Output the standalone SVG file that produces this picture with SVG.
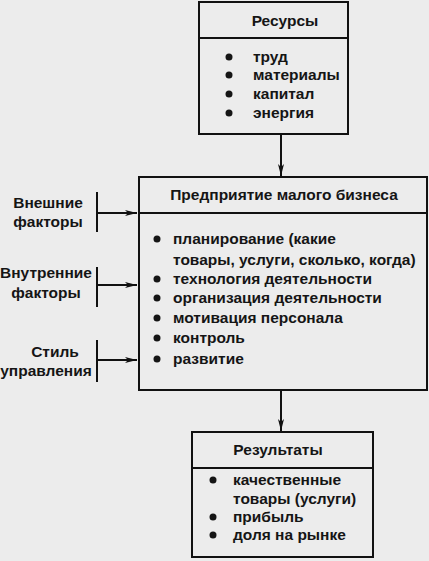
<svg xmlns="http://www.w3.org/2000/svg" width="429" height="561" viewBox="0 0 429 561">
<defs>
<marker id="ah" viewBox="0 0 12 6" refX="12" refY="3" markerWidth="12" markerHeight="6" markerUnits="userSpaceOnUse" orient="auto">
<path d="M0,0 L12,3 L0,6 L3,3 Z" fill="#111"/>
</marker>
</defs>
<style>
.box{fill:none;stroke:#111;stroke-width:2}
.ln{stroke:#111;stroke-width:2;fill:none}
.t{font-family:"Liberation Sans",Arial,sans-serif;font-size:15.5px;font-weight:bold;fill:#151515}
.c{text-anchor:middle}
.b{fill:#151515}
</style>
<rect width="429" height="561" fill="#ececec"/>
<g id="resources">
<rect class="box" x="199" y="2" width="149" height="132"/>
<line class="ln" x1="199" y1="38" x2="348" y2="38"/>
<text class="t c" x="285" y="26">Ресурсы</text>
<circle class="b" cx="229" cy="57" r="3.5"/><text class="t" x="253" y="62">труд</text>
<circle class="b" cx="229" cy="75" r="3.5"/><text class="t" x="253" y="80">материалы</text>
<circle class="b" cx="229" cy="94" r="3.5"/><text class="t" x="253" y="99">капитал</text>
<circle class="b" cx="229" cy="113" r="3.5"/><text class="t" x="253" y="118">энергия</text>
</g>
<g id="enterprise">
<rect class="box" x="139" y="177" width="288" height="213"/>
<line class="ln" x1="139" y1="213" x2="427" y2="213"/>
<text class="t c" x="284" y="200">Предприятие малого бизнеса</text>
<circle class="b" cx="157" cy="239" r="3.5"/><text class="t" x="173" y="244">планирование (какие</text>
<text class="t" x="173" y="265">товары, услуги, сколько, когда)</text>
<circle class="b" cx="157" cy="279" r="3.5"/><text class="t" x="173" y="284">технология деятельности</text>
<circle class="b" cx="157" cy="298" r="3.5"/><text class="t" x="173" y="303">организация деятельности</text>
<circle class="b" cx="157" cy="318" r="3.5"/><text class="t" x="173" y="323">мотивация персонала</text>
<circle class="b" cx="157" cy="338" r="3.5"/><text class="t" x="173" y="343">контроль</text>
<circle class="b" cx="157" cy="359" r="3.5"/><text class="t" x="173" y="364">развитие</text>
</g>
<g id="results">
<rect class="box" x="192" y="432" width="181" height="125"/>
<line class="ln" x1="192" y1="468" x2="373" y2="468"/>
<text class="t c" x="278" y="455">Результаты</text>
<circle class="b" cx="213" cy="480" r="3.5"/><text class="t" x="233" y="485">качественные</text>
<text class="t" x="233" y="504">товары (услуги)</text>
<circle class="b" cx="213" cy="517" r="3.5"/><text class="t" x="233" y="522">прибыль</text>
<circle class="b" cx="213" cy="535" r="3.5"/><text class="t" x="233" y="540">доля на рынке</text>
</g>
<g id="external">
<text class="t c" x="48" y="208">Внешние</text>
<text class="t c" x="48" y="227">факторы</text>
</g>
<g id="internal">
<text class="t c" x="46" y="278">Внутренние</text>
<text class="t c" x="46" y="298">факторы</text>
</g>
<g id="style">
<text class="t c" x="55" y="357">Стиль</text>
<text class="t c" x="46" y="376">управления</text>
</g>
<g id="connectors">
<line class="ln" x1="97" y1="192" x2="97" y2="232"/>
<line class="ln" x1="97" y1="213" x2="137" y2="213" marker-end="url(#ah)"/>
<line class="ln" x1="97" y1="267" x2="97" y2="307"/>
<line class="ln" x1="97" y1="285" x2="137" y2="285" marker-end="url(#ah)"/>
<line class="ln" x1="97" y1="340" x2="97" y2="382"/>
<line class="ln" x1="97" y1="360" x2="137" y2="360" marker-end="url(#ah)"/>
<line class="ln" x1="281" y1="134" x2="281" y2="176" marker-end="url(#ah)"/>
<line class="ln" x1="281" y1="390" x2="281" y2="431" marker-end="url(#ah)"/>
</g>
</svg>
